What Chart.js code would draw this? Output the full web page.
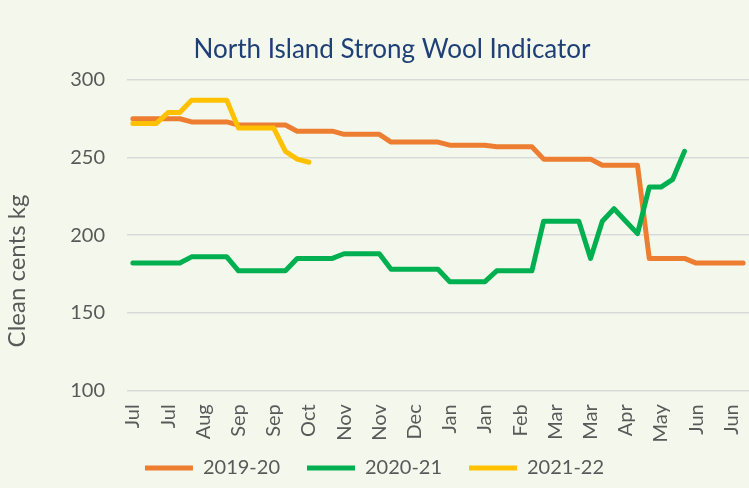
<!DOCTYPE html>
<html>
<head>
<meta charset="utf-8">
<script src="https://cdn.jsdelivr.net/npm/chart.js@4.4.1/dist/chart.umd.min.js"></script>
<style>
html,body{margin:0;padding:0;background:#F4F8EC;overflow:hidden;}
canvas{display:block;}
</style>
</head>
<body>
<canvas id="c" width="749" height="488"></canvas>
<script>
const chartTitle = 'North Island Strong Wool Indicator';
const yAxisTitle = 'Clean cents kg';
const seriesNames = ['2019-20', '2020-21', '2021-22'];

// weekly categories (one per sale week); every third one is labelled
const categories = [
  'Jul','Jul','Jul','Jul','Jul',
  'Aug','Aug','Aug','Aug',
  'Sep','Sep','Sep','Sep','Sep',
  'Oct','Oct','Oct','Oct',
  'Nov','Nov','Nov','Nov','Nov',
  'Dec','Dec','Dec','Dec',
  'Jan','Jan','Jan','Jan','Jan',
  'Feb','Feb','Feb','Feb',
  'Mar','Mar','Mar','Mar',
  'Apr','Apr','Apr','Apr',
  'May','May','May','May',
  'Jun','Jun','Jun','Jun','Jun'
];
const tickEvery = 3;

const values2019 = [
  275,275,275,275,275,
  273,273,273,273,
  271,271,271,271,271,
  267,267,267,267,
  265,265,265,265,
  260,260,260,260,260,
  258,258,258,258,
  257,257,257,257,
  249,249,249,249,249,
  245,245,245,245,
  185,185,185,185,
  182,182,182,182,182
];
const values2020 = [
  182,182,182,182,182,
  186,186,186,186,
  177,177,177,177,177,
  185,185,185,185,
  188,188,188,188,
  178,178,178,178,178,
  170,170,170,170,
  177,177,177,177,
  209,209,209,209,
  185,209,217,209,201,
  231,231,236,254
];
const values2021 = [
  272,272,272,279,279,
  287,287,287,287,
  269,269,269,269,
  254,249,247
];

const yMin = 100, yMax = 300, yStep = 50;

const colors = ['#ED7D31', '#00B050', '#FFC000'];
const textGray = '#595959';
const fontFamily = 'Lato, Calibri, Carlito, sans-serif';

const extraText = {
  id: 'extraText',
  afterDraw(chart) {
    const ctx = chart.ctx;
    ctx.save();
    ctx.fillStyle = '#1F3F77';
    ctx.font = '26px ' + fontFamily;
    ctx.textAlign = 'center';
    ctx.textBaseline = 'alphabetic';
    ctx.fillText(chartTitle, 392, 58);
    ctx.restore();

    ctx.save();
    ctx.fillStyle = textGray;
    ctx.font = '24px ' + fontFamily;
    ctx.textAlign = 'center';
    ctx.textBaseline = 'alphabetic';
    ctx.translate(25, 271);
    ctx.rotate(-Math.PI / 2);
    ctx.fillText(yAxisTitle, 0, 0);
    ctx.restore();
  }
};

const mk = (label, data, color, order) => ({
  label, data,
  borderColor: color, backgroundColor: color,
  borderWidth: 5, pointRadius: 0, pointHoverRadius: 0,
  tension: 0, fill: false,
  borderCapStyle: 'round', borderJoinStyle: 'round',
  order
});

new Chart(document.getElementById('c'), {
  type: 'line',
  data: {
    labels: categories,
    datasets: [
      mk(seriesNames[0], values2019, colors[0], 3),
      mk(seriesNames[1], values2020, colors[1], 2),
      mk(seriesNames[2], values2021, colors[2], 1)
    ]
  },
  options: {
    responsive: false,
    animation: false,
    devicePixelRatio: 1,
    layout: { padding: { top: 80, left: 0, right: 0, bottom: 0 } },
    scales: {
      x: {
        offset: true,
        grid: { display: false, drawTicks: false },
        border: { display: false },
        ticks: {
          autoSkip: false, minRotation: 90, maxRotation: 90, padding: 14,
          color: textGray, font: { family: fontFamily, size: 20 },
          callback: (v, i) => (i % tickEvery === 0 ? categories[i] : '')
        },
        afterFit(s) {
          s.height = 40.7; s.paddingLeft = 0; s.paddingRight = 0;
          s._computeLabelArea = () => undefined; // let rotated labels overhang the axis box
        }
      },
      y: {
        min: yMin, max: yMax,
        grid: { color: '#D9D9D9', lineWidth: 1.5, drawTicks: false },
        border: { display: false },
        ticks: { stepSize: yStep, padding: 22, color: textGray, font: { family: fontFamily, size: 20 } },
        afterFit(s) { s.width = 127; }
      }
    },
    plugins: {
      title: { display: false },
      tooltip: { enabled: false },
      legend: {
        position: 'bottom',
        labels: {
          usePointStyle: true, pointStyle: 'line', pointStyleWidth: 48,
          padding: 27, color: textGray, font: { family: fontFamily, size: 20 },
          sort: (a, b) => a.datasetIndex - b.datasetIndex
        }
      }
    }
  },
  plugins: [extraText]
});
</script>
</body>
</html>
